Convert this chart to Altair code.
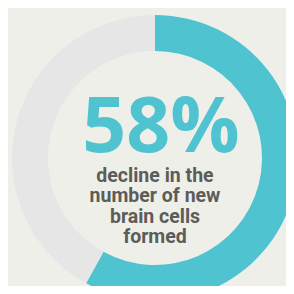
import altair as alt
import pandas as pd

categories = ["decline", "rest"]
values = [58, 42]
colors = ["#4fc4d0", "#e6e6e6"]
headline = ["58%"]
subtitle = ["decline in the", "number of new", "brain cells", "formed"]

df = pd.DataFrame({"cat": categories, "val": values, "order": [0, 1]})

donut = alt.Chart(df).mark_arc(innerRadius=107, outerRadius=143).encode(
    theta=alt.Theta("val:Q", stack=True),
    order=alt.Order("order:Q"),
    color=alt.Color("cat:N", scale=alt.Scale(domain=categories, range=colors), legend=None),
    x=alt.value(147),
    y=alt.value(150),
)

big = alt.Chart(pd.DataFrame({"t": headline})).mark_text(
    font="Open Sans", fontWeight="bold", fontSize=77, color="#4fc4d0",
    align="center", baseline="alphabetic",
).encode(text="t:N", x=alt.value(153), y=alt.value(144))

sub = alt.Chart(pd.DataFrame({"t": [subtitle]})).mark_text(
    font="Roboto", fontWeight="bold", fontSize=19.5, color="#5c5c58",
    align="center", baseline="alphabetic", lineHeight=20.3,
).encode(text="t", x=alt.value(147), y=alt.value(174))

chart = alt.layer(donut, big, sub).properties(
    width=278, height=278, padding=0, autosize=alt.AutoSizeParams(type="none"),
    background="#efefea",
).configure_view(stroke=None)

chart.save("out.html", embed_options={"renderer": "svg", "actions": False})
